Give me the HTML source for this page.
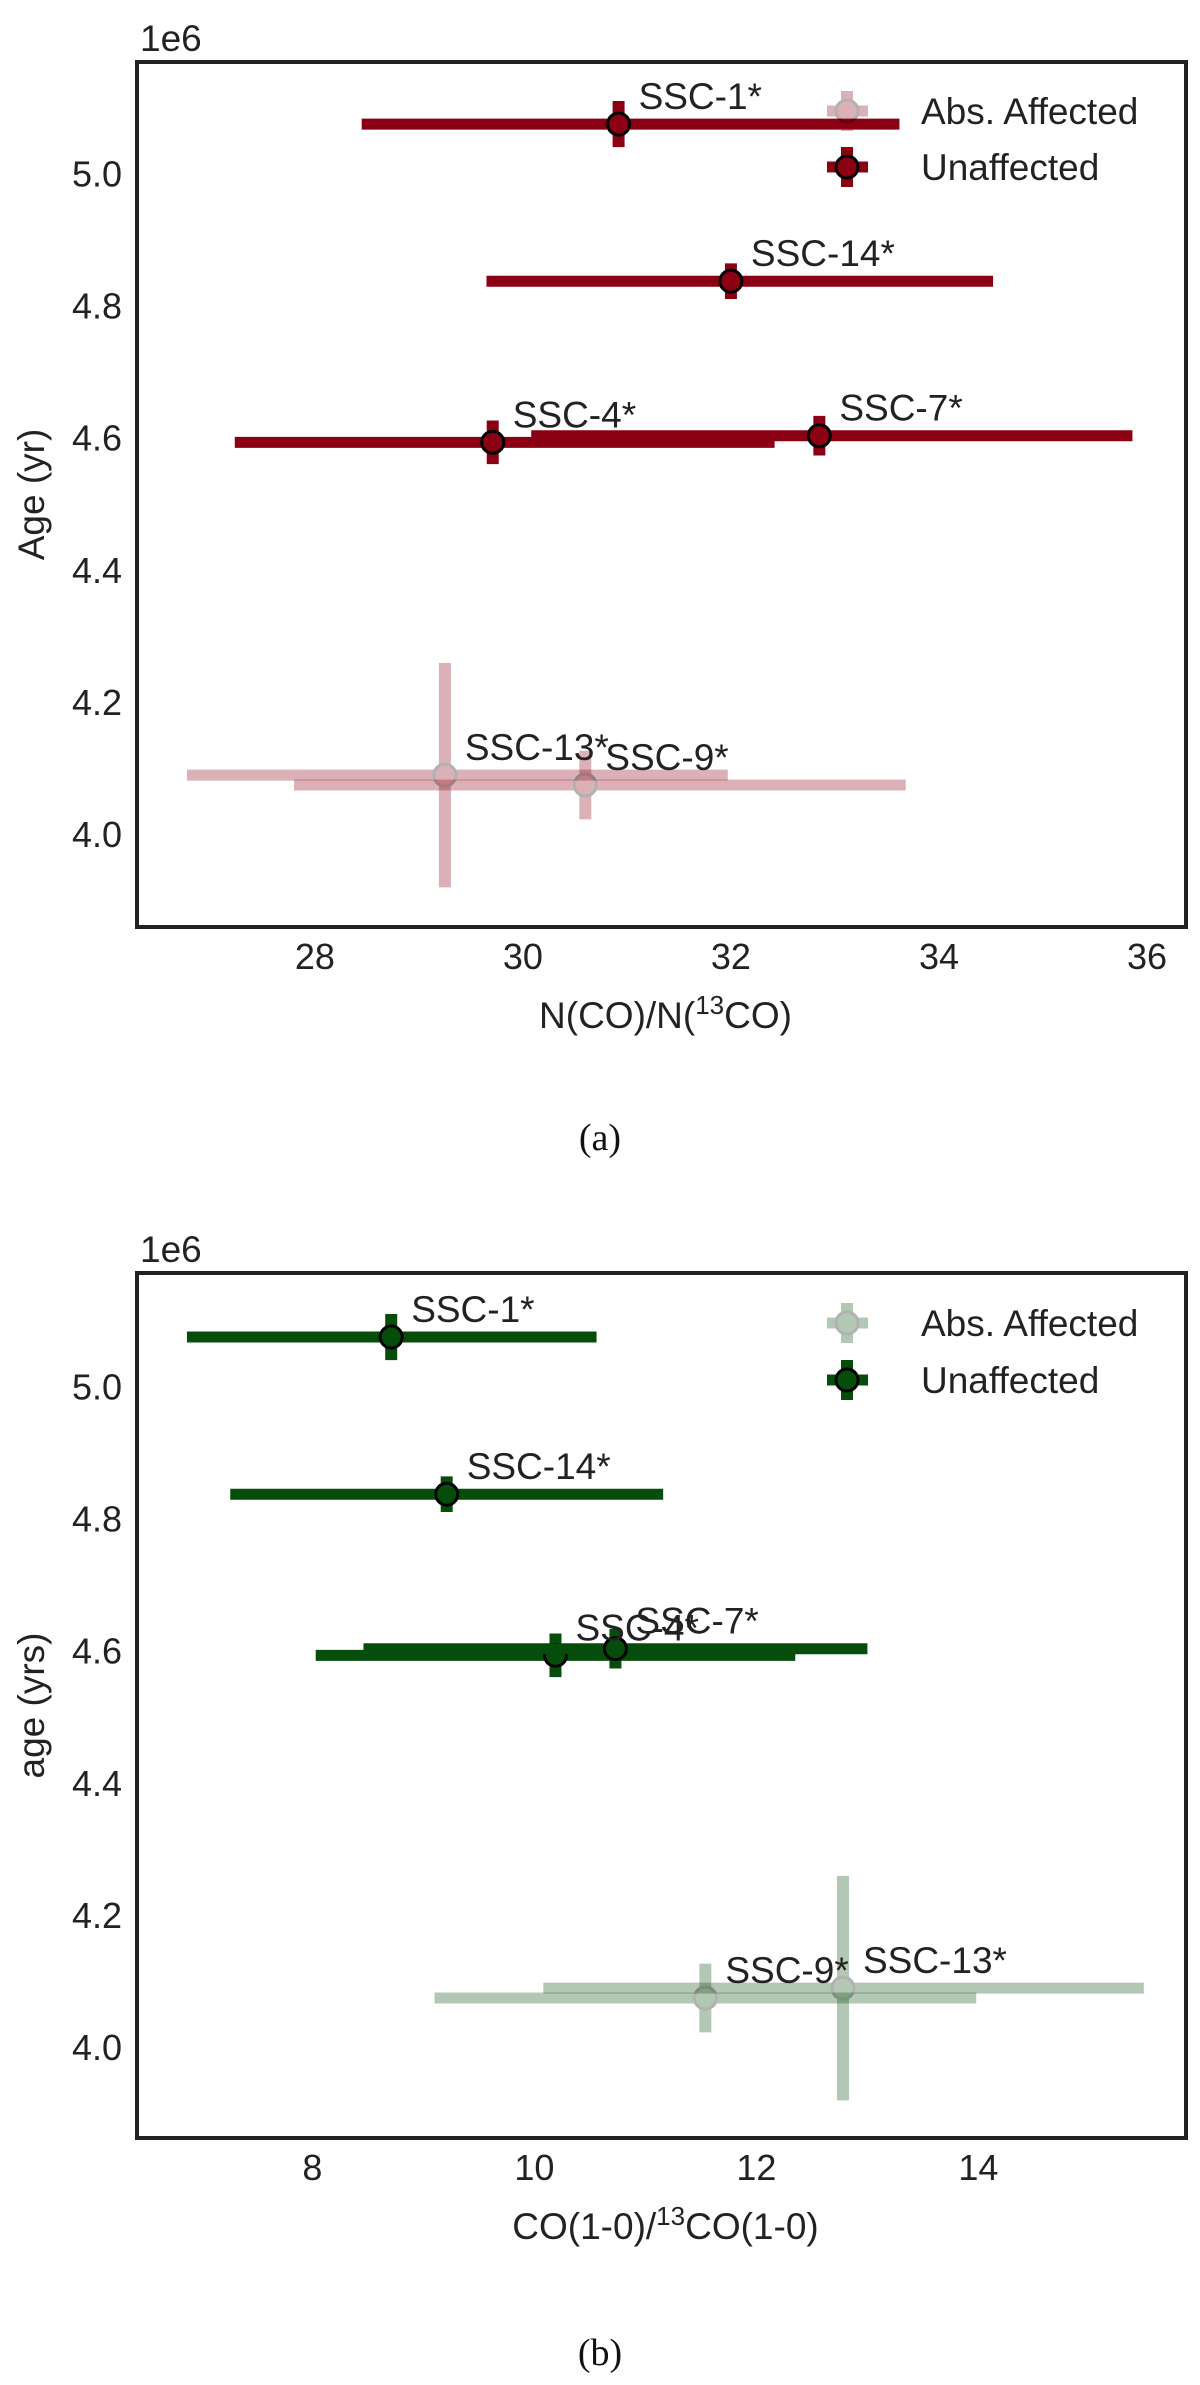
<!DOCTYPE html>
<html><head><meta charset="utf-8"><style>
html,body{margin:0;padding:0;background:#fff;}
svg{display:block;font-family:"Liberation Sans",sans-serif;}
</style></head><body>
<svg id="fig" width="1200" height="2385" viewBox="0 0 1200 2385" xmlns="http://www.w3.org/2000/svg"></svg>
<script>
const names = ["SSC-1*","SSC-14*","SSC-4*","SSC-7*","SSC-13*","SSC-9*"];
const affected = [false,false,false,false,true,true];
const ages = [5.075,4.837,4.593,4.603,4.089,4.074];
const ageErr = [0.035,0.027,0.033,0.03,0.17,0.052];
const nRatio = [30.92,32.0,29.71,32.85,29.25,30.6];
const nLo = [28.45,29.65,27.23,30.08,26.77,27.8];
const nHi = [33.62,34.52,32.42,35.86,31.97,33.68];
const coRatio = [8.71,9.21,10.19,10.73,12.78,11.54];
const coLo = [6.87,7.26,8.03,8.46,10.08,9.1];
const coHi = [10.56,11.16,12.35,13.0,15.49,13.98];
const aXTicks = [28,30,32,34,36];
const bXTicks = [8,10,12,14];
const yTicks = [4.0,4.2,4.4,4.6,4.8,5.0];

const NS="http://www.w3.org/2000/svg";
const svg=document.getElementById('fig');
function mk(tag,attrs,parent){const e=document.createElementNS(NS,tag);for(const k in attrs)e.setAttribute(k,attrs[k]);(parent||svg).appendChild(e);return e;}

function panel(cfg){
  const g=mk('g',{});
  
  
  const L=137,R=1186,T=cfg.top,B=cfg.top+865;
  const sx=v=>L+(v-cfg.xmin)/(cfg.xmax-cfg.xmin)*(R-L);
  const sy=v=>B-(v-cfg.ymin)/(cfg.ymax-cfg.ymin)*(B-T);
  // ticks
  cfg.xticks.forEach(t=>{const tx=mk('text',{x:sx(t),y:B+42,'font-size':36,'text-anchor':'middle',fill:'#222'},g);tx.textContent=t;
    
    });
  yTicks.forEach(t=>{const tx=mk('text',{x:122,y:sy(t)+13,'font-size':36,'text-anchor':'end',fill:'#222'},g);tx.textContent=t.toFixed(1);
    
    });
  const off=mk('text',{x:140,y:T-11,'font-size':37,fill:'#222'},g);off.textContent='1e6';
  
  
  const yl=mk('text',{x:0,y:0,'font-size':37,'text-anchor':'middle',fill:'#222',transform:`translate(44,${(T+B)/2}) rotate(-90)`},g);yl.textContent=cfg.ylabel;
  
  
  const xl=mk('text',{x:(L+R)/2+4,y:B+101,'font-size':37,'text-anchor':'middle',fill:'#222'},g);
  xl.innerHTML=cfg.xlabel;
  
  
  const cap=mk('text',{x:600,y:cfg.capY,'font-size':38,'text-anchor':'middle',fill:'#111','font-family':'Liberation Serif, serif'},g);cap.textContent=cfg.cap;
  
  
  // points
  names.forEach((n,i)=>{
    const op=affected[i]?0.3:1;
    const x=cfg.xs[i],y=ages[i];
    const pg=mk('g',{opacity:op},g);
    
    
    mk('line',{x1:sx(cfg.lo[i]),x2:sx(cfg.hi[i]),y1:sy(y),y2:sy(y),stroke:cfg.color,'stroke-width':11},pg);
    mk('line',{x1:sx(x),x2:sx(x),y1:sy(y-ageErr[i]),y2:sy(y+ageErr[i]),stroke:cfg.color,'stroke-width':12},pg);
    mk('circle',{cx:sx(x),cy:sy(y),r:11,fill:cfg.color,stroke:'#000','stroke-width':3},pg);
  });
  names.forEach((n,i)=>{
    const t=mk('text',{x:sx(cfg.xs[i])+20,y:sy(ages[i])-15,'font-size':37,fill:'#222'},g);t.textContent=n;
    
    
  });
  // legend
  const lg=mk('g',{},g);
  
  
  [['Abs. Affected',0.3,cfg.leg[0]],['Unaffected',1,cfg.leg[1]]].forEach(([lab,op,ly])=>{
    const e=mk('g',{opacity:op},lg);
    
    
    mk('line',{x1:827,x2:868,y1:ly,y2:ly,stroke:cfg.color,'stroke-width':11},e);
    mk('line',{x1:847,x2:847,y1:ly-20,y2:ly+20,stroke:cfg.color,'stroke-width':12},e);
    mk('circle',{cx:847,cy:ly,r:11,fill:cfg.color,stroke:'#000','stroke-width':3},e);
    const t=mk('text',{x:921,y:ly+13,'font-size':37,fill:'#222'},lg);t.textContent=lab;
  });
  const fr=mk('rect',{x:L,y:T,width:R-L,height:B-T,fill:'none',stroke:'#222','stroke-width':4},g);
  
  
}
panel({id:'a',top:62,xmin:26.29,xmax:36.375,ymin:3.859,ymax:5.169,xticks:aXTicks,xs:nRatio,lo:nLo,hi:nHi,
  color:'#8c0014',ylabel:'Age (yr)',xlabel:'N(CO)/N(<tspan dy="-14" font-size="26">13</tspan><tspan dy="14">CO)</tspan>',cap:'(a)',capY:1150,leg:[111,167]});
panel({id:'b',top:1273,xmin:6.42,xmax:15.87,ymin:3.862,ymax:5.172,xticks:bXTicks,xs:coRatio,lo:coLo,hi:coHi,
  color:'#064d0c',ylabel:'age (yrs)',xlabel:'CO(1-0)/<tspan dy="-14" font-size="26">13</tspan><tspan dy="14">CO(1-0)</tspan>',cap:'(b)',capY:2365,leg:[1323,1380]});
</script>
</body></html>
